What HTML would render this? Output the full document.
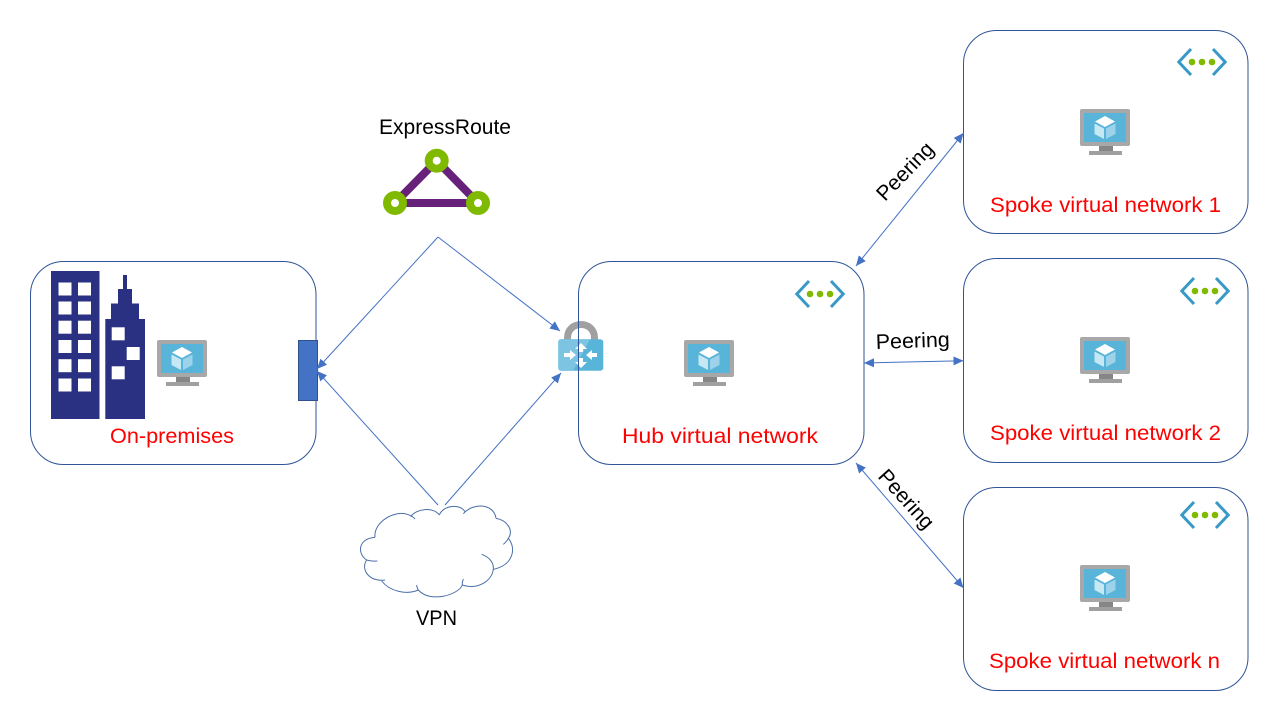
<!DOCTYPE html>
<html>
<head>
<meta charset="utf-8">
<style>
html,body{margin:0;padding:0;background:#fff;width:1280px;height:720px;overflow:hidden}
svg{display:block}
text{font-family:"Liberation Sans",sans-serif;font-size:21px}
.r{fill:#ff0000}
.k{fill:#000}
.box{fill:none;stroke:#2f5597;stroke-width:1}
.ln{stroke:#4472c4;stroke-width:1;fill:none}
</style>
</head>
<body>
<svg width="1280" height="720" viewBox="0 0 1280 720" xmlns="http://www.w3.org/2000/svg">
<defs>
<marker id="a" markerUnits="userSpaceOnUse" markerWidth="12" markerHeight="10" refX="10" refY="4.5" orient="auto-start-reverse">
<path d="M0,0 L10,4.5 L0,9 Z" fill="#4472c4"/>
</marker>
<g id="vm">
<rect x="0" y="0" width="50" height="37" rx="2" fill="#a8a8a8"/>
<rect x="4" y="4" width="42" height="29" fill="#59b4d9"/>
<path d="M19,37 H33 V42 H19 Z" fill="#868686"/>
<rect x="9" y="42" width="33" height="4" fill="#a0a0a0"/>
<path d="M25,7 L35,12.500 L25,18 L15,12.500 Z" fill="#ffffff"/>
<path d="M14.500,14.500 L24,19.500 L24,30 L14.500,25 Z" fill="#c6e8f5"/>
<path d="M35.500,14.500 L26,19.500 L26,30 L35.500,25 Z" fill="#9cd3ea"/>
</g>
<g id="net">
<path d="M14,1 L1.800,14 L14,27" fill="none" stroke="#3999c6" stroke-width="3"/>
<path d="M36,1 L48.200,14 L36,27" fill="none" stroke="#3999c6" stroke-width="3"/>
<circle cx="15" cy="14" r="3.300" fill="#7fba00"/>
<circle cx="25" cy="14" r="3.300" fill="#7fba00"/>
<circle cx="35" cy="14" r="3.300" fill="#7fba00"/>
</g>
</defs>

<!-- buildings -->
<rect x="51" y="271" width="48.500" height="148" fill="#2a3183"/>
<g fill="#ffffff">
<rect x="58.500" y="282.500" width="13" height="13"/><rect x="78" y="282.500" width="13" height="13"/>
<rect x="58.500" y="301.500" width="13" height="13"/><rect x="78" y="301.500" width="13" height="13"/>
<rect x="58.500" y="320.700" width="13" height="13"/><rect x="78" y="320.700" width="13" height="13"/>
<rect x="58.500" y="340" width="13" height="13"/><rect x="78" y="340" width="13" height="13"/>
<rect x="58.500" y="359.200" width="13" height="13"/><rect x="78" y="359.200" width="13" height="13"/>
<rect x="58.500" y="378.500" width="13" height="13"/><rect x="78" y="378.500" width="13" height="13"/>
</g>
<path d="M123,275 H127 V289 H132 V303.500 H139 V319 H145 V419 H105.300 V319 H111 V303.500 H118 V289 H123 Z" fill="#2a3183"/>
<g fill="#ffffff">
<rect x="111.700" y="327.300" width="13" height="13"/>
<rect x="126.700" y="347" width="13" height="13"/>
<rect x="111.700" y="366.300" width="13" height="13"/>
</g>

<!-- lock -->
<path d="M567.500,341 V338 C567.500,320 594.500,320 594.500,338 V341" fill="none" stroke="#a0a0a0" stroke-width="7"/>
<rect x="558.300" y="339.300" width="45" height="31.400" rx="3" fill="#59b4d9"/>
<path d="M558.300,342 Q558.300,339.300 561,339.300 H590 L573,370.700 H561 Q558.300,370.700 558.300,368 Z" fill="#7cc4e2"/>
<g fill="#ffffff">
<path d="M564,353 H570 V350 L576,355 L570,360 V357 H564 Z"/>
<path d="M597,353 H592 V350 L586,355 L592,360 V357 H597 Z"/>
<path d="M581,343 L587,349 H583 V352 H579 V349 H575 Z"/>
<path d="M581,368 L587,362 H583 V358 H579 V362 H575 Z"/>
</g>

<!-- boxes -->
<rect class="box" x="30.500" y="261.500" width="285.500" height="203" rx="33"/>
<rect class="box" x="578.500" y="261.500" width="285.500" height="203" rx="33"/>
<rect class="box" x="963.500" y="30.500" width="284.500" height="203" rx="33"/>
<rect class="box" x="963.500" y="258.500" width="284.500" height="204" rx="33"/>
<rect class="box" x="963.500" y="487.500" width="284.500" height="203" rx="33"/>

<rect x="298.500" y="340.500" width="19" height="60" fill="#4472c4" stroke="#2f528f" stroke-width="1"/>

<!-- VMs -->
<use href="#vm" x="157" y="340"/>
<use href="#vm" x="684" y="340"/>
<use href="#vm" x="1080" y="109"/>
<use href="#vm" x="1080" y="337"/>
<use href="#vm" x="1080" y="565"/>

<!-- network icons -->
<use href="#net" x="795" y="280"/>
<use href="#net" x="1177" y="48"/>
<use href="#net" x="1180" y="277"/>
<use href="#net" x="1180" y="501"/>

<!-- ExpressRoute icon -->
<path d="M436.700,160.700 L395,203 H478 Z" fill="none" stroke="#68217a" stroke-width="8"/>
<g fill="#ffffff" stroke="#7fba00" stroke-width="8">
<circle cx="436.700" cy="160.700" r="8"/>
<circle cx="395" cy="203" r="8"/>
<circle cx="478" cy="203" r="8"/>
</g>

<!-- connectors -->
<path class="ln" d="M438,237 L317,369" marker-end="url(#a)"/>
<path class="ln" d="M438,237 L560,331" marker-end="url(#a)"/>
<path class="ln" d="M438,505 L317,371" marker-end="url(#a)"/>
<path class="ln" d="M445,505 L561,373" marker-end="url(#a)"/>
<path class="ln" d="M856,266 L963.500,133" marker-start="url(#a)" marker-end="url(#a)"/>
<path class="ln" d="M864,363 L963.500,360.700" marker-start="url(#a)" marker-end="url(#a)"/>
<path class="ln" d="M856,463 L963.500,588" marker-start="url(#a)" marker-end="url(#a)"/>

<!-- cloud -->
<g transform="translate(350,495) scale(0.33333)" fill="none" stroke="#4a6fa8" stroke-width="3">
<path d="M75,127 C70,80 135,45 172,58 C182,61 190,66 195,72"/>
<path d="M182,65 C200,40 250,35 268,60"/>
<path d="M268,60 C280,30 330,25 345,50"/>
<path d="M340,56 C370,22 432,25 438,70"/>
<path d="M438,70 C470,75 492,105 475,130 C472,136 466,143 460,148"/>
<path d="M475,130 C500,160 490,210 430,223"/>
<path d="M395,178 C420,187 432,205 430,223 C425,260 380,285 337,270 C336,264 338,258 340,252"/>
<path d="M337,270 C325,300 240,325 205,285 C202,280 200,275 200,270"/>
<path d="M205,285 C170,300 120,290 95,258"/>
<path d="M105,255 C60,262 30,225 50,195 C60,198 72,199 82,198"/>
<path d="M50,195 C20,175 25,130 75,127"/>
</g>

<!-- labels -->
<text class="r" x="110" y="443" textLength="124" lengthAdjust="spacingAndGlyphs">On-premises</text>
<text class="r" x="622" y="443" textLength="196" lengthAdjust="spacingAndGlyphs">Hub virtual network</text>
<text class="r" x="990" y="212" textLength="231" lengthAdjust="spacingAndGlyphs">Spoke virtual network 1</text>
<text class="r" x="990" y="440" textLength="231" lengthAdjust="spacingAndGlyphs">Spoke virtual network 2</text>
<text class="r" x="989" y="668" textLength="231" lengthAdjust="spacingAndGlyphs">Spoke virtual network n</text>
<text class="k" x="379" y="134" textLength="132" lengthAdjust="spacingAndGlyphs">ExpressRoute</text>
<text class="k" x="416" y="625" textLength="41" lengthAdjust="spacingAndGlyphs">VPN</text>
<text class="k" x="0" y="0" textLength="74" lengthAdjust="spacingAndGlyphs" transform="translate(876,349) rotate(-2)">Peering</text>
<text class="k" x="0" y="0" textLength="72" lengthAdjust="spacingAndGlyphs" transform="translate(885,202) rotate(-46)">Peering</text>
<text class="k" x="0" y="0" textLength="72" lengthAdjust="spacingAndGlyphs" transform="translate(877,477) rotate(48)">Peering</text>
</svg>
</body>
</html>
